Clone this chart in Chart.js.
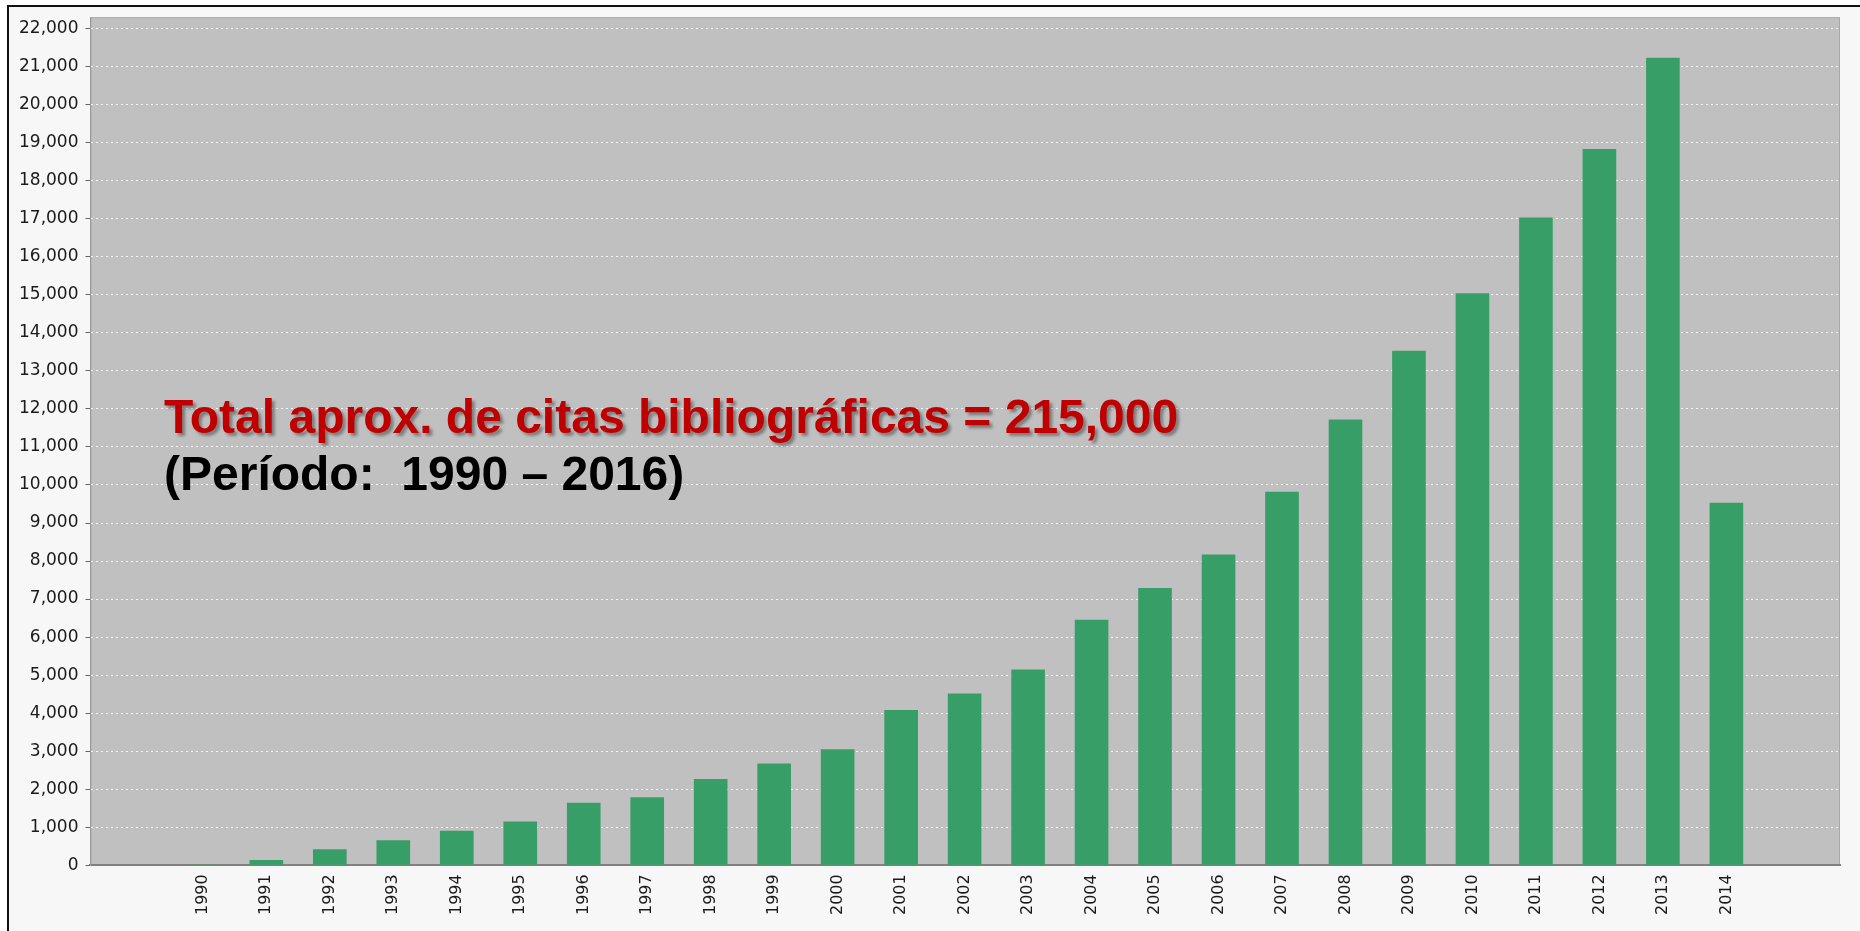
<!DOCTYPE html>
<html lang="es">
<head>
<meta charset="utf-8">
<title>Citas bibliográficas por año</title>
<script src="https://cdn.jsdelivr.net/npm/chart.js@4.4.1/dist/chart.umd.min.js"></script>
<style>
  html, body { margin: 0; padding: 0; background: #ffffff; }
  #frame {
    position: absolute; left: 7px; top: 5px; width: 1860px; height: 940px;
    border-left: 2px solid #111; border-top: 2px solid #111;
    background: #f7f7f7;
  }
  #chart-canvas { position: absolute; left: 0; top: 0; }
  #note {
    position: absolute; left: 164px; top: 388px;
    font-family: "Liberation Sans", Arial, sans-serif;
    font-weight: bold; font-size: 48px; line-height: 57px;
    white-space: pre;
  }
  #note .total { color: #c00000; text-shadow: 3px 3px 3px rgba(0,0,0,0.35); }
  #note .period { color: #000000; }
</style>
</head>
<body>
<div id="frame"></div>
<canvas id="chart-canvas" width="1860" height="931"></canvas>
<div id="note"><div class="total">Total aprox. de citas bibliográficas = 215,000</div><div class="period">(Período:  1990 – 2016)</div></div>

<script>
// --- Data ---
const years = [1990, 1991, 1992, 1993, 1994, 1995, 1996, 1997, 1998, 1999, 2000, 2001,
  2002, 2003, 2004, 2005, 2006, 2007, 2008, 2009, 2010, 2011, 2012, 2013, 2014];
const citations = [10, 140, 420, 660, 910, 1150, 1645, 1790, 2270, 2675, 3050, 4085,
  4515, 5150, 6455, 7290, 8170, 9825, 11720, 13530, 15040, 17035, 18835, 21235, 9535];
const yTicks = [0, 1000, 2000, 3000, 4000, 5000, 6000, 7000, 8000, 9000, 10000, 11000,
  12000, 13000, 14000, 15000, 16000, 17000, 18000, 19000, 20000, 21000, 22000];

document.addEventListener("DOMContentLoaded", () => {
  const ctx = document.getElementById('chart-canvas').getContext('2d');

  // grey plot background behind the bars
  const plotBackground = {
    id: 'plotBackground',
    beforeDraw(chart) {
      const { ctx, chartArea: a } = chart;
      ctx.save();
      ctx.fillStyle = '#c0c0c0';
      ctx.fillRect(a.left, a.top, a.right - a.left, a.bottom - a.top);
      ctx.strokeStyle = '#a8a8a8';
      ctx.lineWidth = 1;
      ctx.strokeRect(a.left + 0.5, a.top + 0.5, a.right - a.left - 1, a.bottom - a.top - 1);
      ctx.restore();
    }
  };

  new Chart(ctx, {
    type: 'bar',
    data: {
      datasets: [{
        label: 'Citas',
        data: years.map((y, i) => ({ x: y, y: citations[i] })),
        backgroundColor: '#389e68',
        borderWidth: 0,
        categoryPercentage: 1,
        barPercentage: 0.53
      }]
    },
    plugins: [plotBackground],
    options: {
      responsive: false,
      animation: false,
      layout: { padding: { left: 12, right: 20, top: 11, bottom: 7 } },
      plugins: {
        legend: { display: false },
        tooltip: { enabled: false }
      },
      scales: {
        x: {
          type: 'linear',
          offset: false,
          min: 1988.23,
          max: 2015.79,
          afterBuildTicks: (axis) => { axis.ticks = years.map(v => ({ value: v })); },
          grid: { drawOnChartArea: false, drawTicks: false, offset: false },
          border: { color: '#808080', width: 2 },
          ticks: {
            autoSkip: false,
            minRotation: 90,
            maxRotation: 90,
            padding: 9,
            color: '#1a1a1a',
            font: { family: 'DejaVu Sans', size: 16 },
            callback: (v) => String(v)
          }
        },
        y: {
          min: 0,
          max: 22300,
          afterBuildTicks: (axis) => { axis.ticks = yTicks.map(v => ({ value: v })); },
          grid: { color: 'rgba(255,255,255,0.8)', tickColor: '#666', tickLength: 5 },
          border: { color: '#999', dash: [2, 3] },
          ticks: {
            autoSkip: false,
            padding: 7,
            color: '#1a1a1a',
            font: { family: 'DejaVu Sans', size: 17 },
            callback: (v) => v.toLocaleString('en-US')
          }
        }
      }
    }
  });
});
</script>
</body>
</html>
